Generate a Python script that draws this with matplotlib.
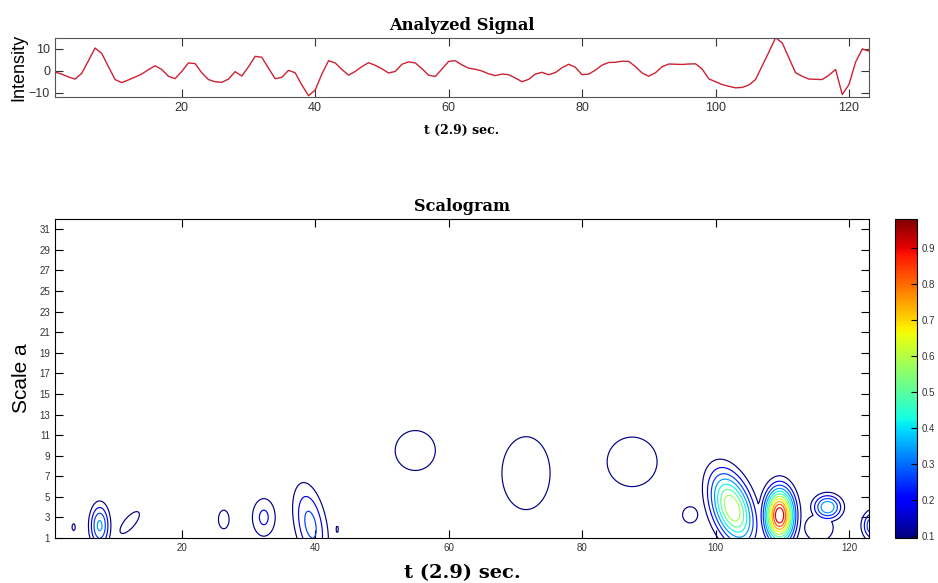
import numpy as np
import matplotlib
matplotlib.use('Agg')
import matplotlib.pyplot as plt
from matplotlib import cm, colors

# signal, t = 1..123
t_sig = np.arange(1, 124)
intensity = [
    -0.6, -1.5, -2.8, -3.8, -1.2, 4.5, 10.4, 8.0, 2.0, -4.0,
    -5.4, -4.2, -2.9, -1.5, 0.5, 2.3, 0.6, -2.5, -3.6, -0.3,
    3.6, 3.3, -0.9, -4.0, -5.0, -5.3, -3.8, -0.4, -2.4, 1.8,
    6.6, 6.2, 1.2, -3.6, -3.0, 0.2, -0.9, -6.5, -11.4, -8.8,
    -1.5, 4.6, 3.6, 0.6, -2.0, -0.3, 1.9, 3.7, 2.5, 0.9,
    -1.0, -0.3, 3.0, 4.1, 3.6, 1.0, -2.0, -2.6, 0.8, 4.3,
    4.6, 2.7, 1.2, 0.7, -0.1, -1.4, -2.2, -1.5, -1.8, -3.3,
    -5.0, -3.9, -1.5, -0.7, -1.8, -0.8, 1.4, 3.0, 1.6, -1.8,
    -1.5, 0.3, 2.6, 3.8, 3.9, 4.4, 4.3, 1.9, -1.0, -2.5,
    -0.9, 1.9, 3.1, 3.0, 2.9, 3.1, 3.2, 0.8, -3.7, -5.0,
    -6.3, -7.1, -7.8, -7.6, -6.5, -4.0, 2.3, 8.6, 15.1, 12.8,
    5.9, -0.9, -2.5, -3.8, -3.9, -4.0, -2.0, 0.6, -10.9, -6.3,
    4.0, 10.0, 9.0,
]

# scalogram blobs (centre t, centre scale, peak, widths, tilt)
blob_t = [3.8, 7.7, 12.2, 26.3, 32.3, 39.3, 43.3, 55.0, 71.6, 87.5, 96.2, 102.5, 109.6, 116.8, 115.5, 124.0]
blob_a = [2.05, 2.2, 2.5, 2.8, 3.0, 2.3, 1.85, 9.5, 7.3, 8.4, 3.25, 3.9, 3.2, 4.0, 2.0, 2.2]
blob_amp = [0.106, 0.36, 0.14, 0.13, 0.2, 0.29, 0.104, 0.125, 0.125, 0.125, 0.11, 0.66, 0.98, 0.42, 0.14, 0.42]
blob_st = [0.7, 1.05, 1.2, 1.1, 1.45, 1.7, 0.6, 4.5, 5.4, 5.6, 2.6, 2.1, 1.5, 1.5, 2.6, 1.3]
blob_sa = [1.0, 1.5, 1.3, 1.25, 1.55, 2.8, 1.2, 2.9, 5.3, 3.6, 1.8, 2.45, 1.8, 0.85, 1.6, 1.0]
blob_tilt = [0, 0, 1.0, 0, 0, -0.25, 0, 0, 0, 0, 0, -0.38, 0, 0, 0, 0]

levels = np.arange(0.1, 0.98, 0.08)

tt, aa = np.meshgrid(np.arange(1, 123.01, 0.2), np.arange(1, 32.01, 0.1))
coef = np.zeros_like(tt)
for t0, a0, amp, st, sa, tl in zip(blob_t, blob_a, blob_amp, blob_st, blob_sa, blob_tilt):
    tc = t0 + tl * (aa - a0)
    coef = np.maximum(coef, amp * np.exp(-0.5 * (((tt - tc) / st) ** 2 + ((aa - a0) / sa) ** 2)))

fig = plt.figure(figsize=(9.38, 5.83), dpi=100)
serif = 'DejaVu Serif'
sans = 'Liberation Sans'
tick_col = '#333333'

# top: signal
ax1 = fig.add_axes([0.0586, 0.8336, 0.8678, 0.1012])
ax1.plot(t_sig, intensity, color='#cc2233', lw=1.0)
ax1.set_xlim(1, 123)
ax1.set_ylim(-12, 15)
ax1.set_xticks([20, 40, 60, 80, 100, 120])
ax1.set_yticks([-10, 0, 10])
ax1.tick_params(direction='in', length=6, top=True, right=True, labelsize=9,
                labelcolor=tick_col, color='#333333')
for s in ax1.spines.values():
    s.set_color('#555555')
ax1.set_title('Analyzed Signal', fontfamily=serif, fontweight='bold', fontsize=11.8, pad=6)
ax1.set_xlabel('t (2.9) sec.', fontfamily=serif, fontweight='bold', fontsize=9, labelpad=7)
ax1.set_ylabel('Intensity', fontfamily=sans, fontsize=13, labelpad=1)
for lab in ax1.get_xticklabels() + ax1.get_yticklabels():
    lab.set_fontfamily(sans)

# bottom: scalogram
norm = colors.Normalize(vmin=0.094, vmax=0.98)
ax2 = fig.add_axes([0.0586, 0.0772, 0.8678, 0.5472])
ax2.contour(tt, aa, coef, levels=levels, cmap='jet', norm=norm, linewidths=0.85)
ax2.set_xlim(1, 123)
ax2.set_ylim(1, 32)
ax2.set_xticks([20, 40, 60, 80, 100, 120])
ax2.set_yticks(np.arange(1, 32, 2))
ax2.tick_params(direction='in', length=6, right=True, top=True, labelsize=7,
                labelcolor=tick_col)
for lab in ax2.get_xticklabels() + ax2.get_yticklabels():
    lab.set_fontfamily(sans)
ax2.set_title('Scalogram', fontfamily=serif, fontweight='bold', fontsize=11.6, pad=6)
ax2.set_xlabel('t (2.9) sec.', fontfamily=serif, fontweight='bold', fontsize=14, labelpad=8)
ax2.set_ylabel('Scale a', fontfamily=sans, fontsize=15, labelpad=6)

# colorbar
cax = fig.add_axes([0.9542, 0.0772, 0.0235, 0.5472])
cb = fig.colorbar(cm.ScalarMappable(norm=norm, cmap='jet'), cax=cax)
cb.set_ticks(np.arange(0.1, 0.95, 0.1))
cb.ax.tick_params(direction='in', length=4, labelsize=7, labelcolor=tick_col)
for lab in cb.ax.get_yticklabels():
    lab.set_fontfamily(sans)

fig.savefig('out.png', dpi=100)
